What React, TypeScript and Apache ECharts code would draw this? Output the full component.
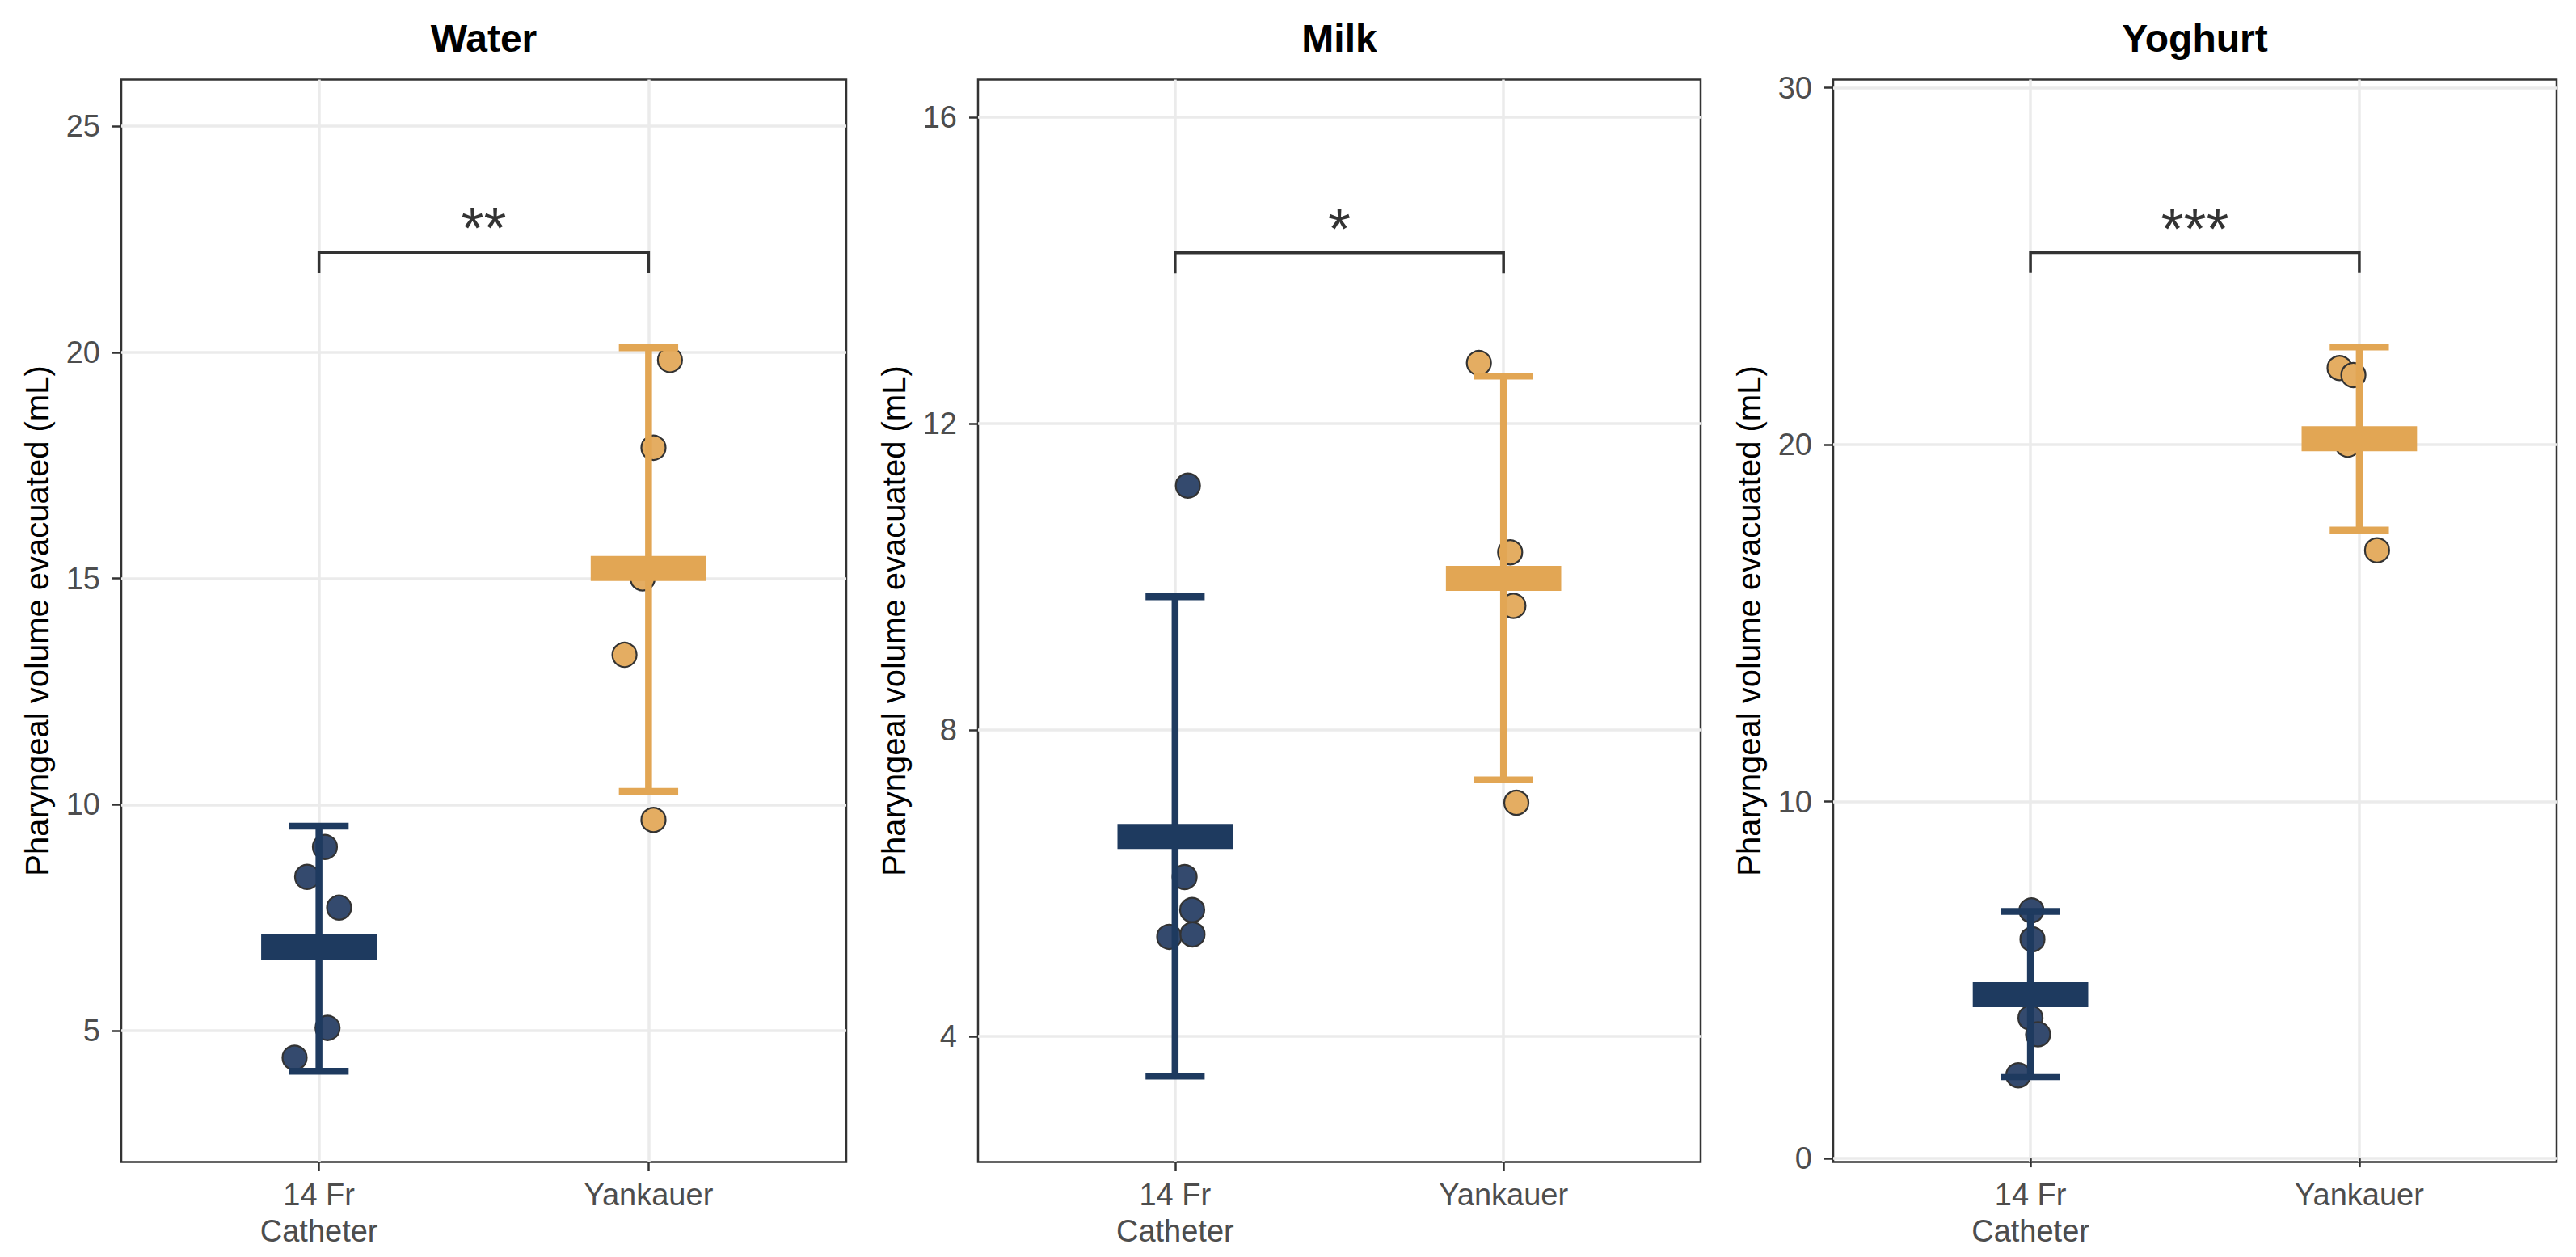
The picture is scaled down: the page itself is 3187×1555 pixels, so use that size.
import React, { useEffect, useRef } from "react";
import * as echarts from "echarts";

// ---------------- data ----------------
const panelTitles = ["Water", "Milk", "Yoghurt"];
const categoryLabels = ["14 Fr\nCatheter", "Yankauer"];
const categoryPositions = [1, 2];

const waterCatheter = [9.06, 8.4, 7.72, 5.06, 4.4];
const waterCatheterJitter = [0.018, -0.036, 0.061, 0.026, -0.074];
const waterYankauer = [19.83, 17.89, 15.0, 13.31, 9.66];
const waterYankauerJitter = [0.065, 0.015, -0.018, -0.073, 0.015];
const waterMeans = [6.85, 15.22];
const waterLow = [4.1, 10.29];
const waterHigh = [9.52, 20.1];

const milkCatheter = [11.19, 6.08, 5.65, 5.3, 5.33];
const milkCatheterJitter = [0.039, 0.029, 0.052, -0.018, 0.053];
const milkYankauer = [12.79, 10.32, 9.62, 7.05];
const milkYankauerJitter = [-0.075, 0.02, 0.03, 0.039];
const milkMeans = [6.61, 9.98];
const milkLow = [3.48, 7.35];
const milkHigh = [9.74, 12.62];

const yoghurtCatheter = [6.95, 6.14, 3.94, 3.48, 2.33];
const yoghurtCatheterJitter = [0.003, 0.006, 0.0, 0.023, -0.037];
const yoghurtYankauer = [22.15, 21.95, 20.0, 17.04];
const yoghurtYankauerJitter = [-0.06, -0.018, -0.035, 0.054];
const yoghurtMeans = [4.59, 20.17];
const yoghurtLow = [2.29, 17.61];
const yoghurtHigh = [6.92, 22.74];

const bracketTop = [22.21, 14.23, 25.38];
const bracketTip = [21.75, 13.96, 24.81];
const significance = ["**", "*", "***"];

const yMin = [2.095, 2.36, -0.1];
const yMax = [26.03, 16.49, 30.23];
const yTicks = [
  [5, 10, 15, 20, 25],
  [4, 8, 12, 16],
  [0, 10, 20, 30],
];

// ---------------- styling / layout ----------------
const FONT = '"Liberation Sans", Arial, Helvetica, sans-serif';
const lineColors = ["#1E3A5F", "#E2A654"];
const dotColors = ["#344A6E", "#E4AD62"];
const gridLefts = [150, 1210, 2268];
const gridWidths = [897, 894, 895];
const gridTop = 98.5;
const gridHeight = 1339;

const panelData = [
  {
    pts: [waterCatheter, waterYankauer],
    jit: [waterCatheterJitter, waterYankauerJitter],
    mean: waterMeans,
    low: waterLow,
    high: waterHigh,
  },
  {
    pts: [milkCatheter, milkYankauer],
    jit: [milkCatheterJitter, milkYankauerJitter],
    mean: milkMeans,
    low: milkLow,
    high: milkHigh,
  },
  {
    pts: [yoghurtCatheter, yoghurtYankauer],
    jit: [yoghurtCatheterJitter, yoghurtYankauerJitter],
    mean: yoghurtMeans,
    low: yoghurtLow,
    high: yoghurtHigh,
  },
];

function buildOption() {
  const grid = panelTitles.map((_, i) => ({
    left: gridLefts[i],
    top: gridTop,
    width: gridWidths[i],
    height: gridHeight,
    show: true,
    borderColor: "#333333",
    borderWidth: 2.5,
    backgroundColor: "#ffffff",
    containLabel: false,
  }));

  const xAxis = panelTitles.map((_, i) => ({
    type: "value",
    gridIndex: i,
    min: 0.4,
    max: 2.6,
    axisLine: { show: false },
    axisTick: {
      show: true,
      customValues: categoryPositions,
      length: 11,
      lineStyle: { color: "#333333", width: 2.5 },
    },
    axisLabel: {
      customValues: categoryPositions,
      formatter: (v: number) => categoryLabels[Math.round(v) - 1] ?? "",
      fontSize: 38,
      lineHeight: 45,
      color: "#4D4D4D",
      fontFamily: FONT,
      margin: 18,
    },
    splitLine: { show: true, lineStyle: { color: "#EBEBEB", width: 3.5 } },
  }));

  const yAxis = panelTitles.map((_, i) => ({
    type: "value",
    gridIndex: i,
    min: yMin[i],
    max: yMax[i],
    axisLine: { show: false },
    axisTick: {
      show: true,
      customValues: yTicks[i],
      length: 11,
      lineStyle: { color: "#333333", width: 2.5 },
    },
    axisLabel: {
      customValues: yTicks[i],
      formatter: (v: number) => String(Math.round(v)),
      fontSize: 38,
      color: "#4D4D4D",
      fontFamily: FONT,
      margin: 26,
    },
    splitLine: { show: true, lineStyle: { color: "#EBEBEB", width: 3.5 } },
  }));

  const series: any[] = [];
  panelData.forEach((pd, i) => {
    const points: any[] = [];
    pd.pts.forEach((vals, g) => {
      vals.forEach((v, k) => {
        points.push({
          value: [categoryPositions[g] + pd.jit[g][k], v],
          itemStyle: { color: dotColors[g], opacity: 1 },
        });
      });
    });
    series.push({
      type: "scatter",
      xAxisIndex: i,
      yAxisIndex: i,
      z: 2,
      symbol: "circle",
      symbolSize: 30,
      itemStyle: { borderColor: "#333333", borderWidth: 2.2, opacity: 1 },
      data: points,
      silent: true,
    });

    series.push({
      type: "custom",
      xAxisIndex: i,
      yAxisIndex: i,
      z: 3,
      silent: true,
      encode: { x: 0, y: [1, 2, 3] },
      data: categoryPositions.map((x, g) => [x, pd.low[g], pd.high[g], pd.mean[g], g]),
      renderItem: (params: any, api: any) => {
        const x = api.value(0);
        const lo = api.value(1);
        const hi = api.value(2);
        const m = api.value(3);
        const g = api.value(4);
        const col = lineColors[g];
        const pLo = api.coord([x, lo]);
        const pHi = api.coord([x, hi]);
        const capL = api.coord([x - 0.09, hi]);
        const capR = api.coord([x + 0.09, hi]);
        const barL = api.coord([x - 0.1755, m]);
        const barR = api.coord([x + 0.1755, m]);
        const lw = 8.5;
        const bh = 31;
        return {
          type: "group",
          children: [
            {
              type: "line",
              shape: { x1: pLo[0], y1: pLo[1], x2: pHi[0], y2: pHi[1] },
              style: { stroke: col, lineWidth: lw },
            },
            {
              type: "line",
              shape: { x1: capL[0], y1: pHi[1], x2: capR[0], y2: pHi[1] },
              style: { stroke: col, lineWidth: lw },
            },
            {
              type: "line",
              shape: { x1: capL[0], y1: pLo[1], x2: capR[0], y2: pLo[1] },
              style: { stroke: col, lineWidth: lw },
            },
            {
              type: "rect",
              shape: { x: barL[0], y: barL[1] - bh / 2, width: barR[0] - barL[0], height: bh },
              style: { fill: col },
            },
          ],
        };
      },
    });

    series.push({
      type: "custom",
      xAxisIndex: i,
      yAxisIndex: i,
      z: 4,
      silent: true,
      encode: { x: [0, 1], y: [2, 3] },
      data: [[categoryPositions[0], categoryPositions[1], bracketTop[i], bracketTip[i]]],
      renderItem: (params: any, api: any) => {
        const a = api.coord([api.value(0), api.value(3)]);
        const b = api.coord([api.value(0), api.value(2)]);
        const c = api.coord([api.value(1), api.value(2)]);
        const d = api.coord([api.value(1), api.value(3)]);
        return {
          type: "group",
          children: [
            {
              type: "polyline",
              shape: { points: [a, b, c, d] },
              style: { stroke: "#333333", lineWidth: 3.5, fill: "none" },
            },
            {
              type: "text",
              x: (b[0] + c[0]) / 2,
              y: b[1] - 30,
              style: {
                text: significance[i],
                fontSize: 72,
                fontFamily: FONT,
                fill: "#333333",
                align: "center",
                verticalAlign: "middle",
                textAlign: "center",
                textVerticalAlign: "middle",
              },
            },
          ],
        };
      },
    });
  });

  const graphic: any[] = [];
  panelTitles.forEach((t, i) => {
    graphic.push({
      type: "text",
      x: gridLefts[i] + gridWidths[i] / 2,
      y: 47,
      style: {
        text: t,
        fontSize: 48,
        fontWeight: "bold",
        fontFamily: FONT,
        fill: "#000000",
        align: "center",
        verticalAlign: "middle",
        textAlign: "center",
        textVerticalAlign: "middle",
      },
    });
    graphic.push({
      type: "text",
      x: gridLefts[i] - 104,
      y: gridTop + gridHeight / 2,
      rotation: Math.PI / 2,
      style: {
        text: "Pharyngeal volume evacuated (mL)",
        fontSize: 40,
        fontFamily: FONT,
        fill: "#000000",
        align: "center",
        verticalAlign: "middle",
        textAlign: "center",
        textVerticalAlign: "middle",
      },
    });
  });

  return {
    animation: false,
    backgroundColor: "#ffffff",
    textStyle: { fontFamily: FONT },
    grid,
    xAxis,
    yAxis,
    series,
    graphic,
  };
}

export default function App() {
  const ref = useRef<HTMLDivElement>(null);
  useEffect(() => {
    if (!ref.current) return;
    const chart = echarts.init(ref.current, undefined, { renderer: "svg" });
    chart.setOption(buildOption() as any);
    return () => {
      chart.dispose();
    };
  }, []);
  return (
    <div
      ref={ref}
      style={{
        position: "fixed",
        left: 0,
        top: 0,
        width: 3187,
        height: 1555,
        background: "#ffffff",
      }}
    />
  );
}
